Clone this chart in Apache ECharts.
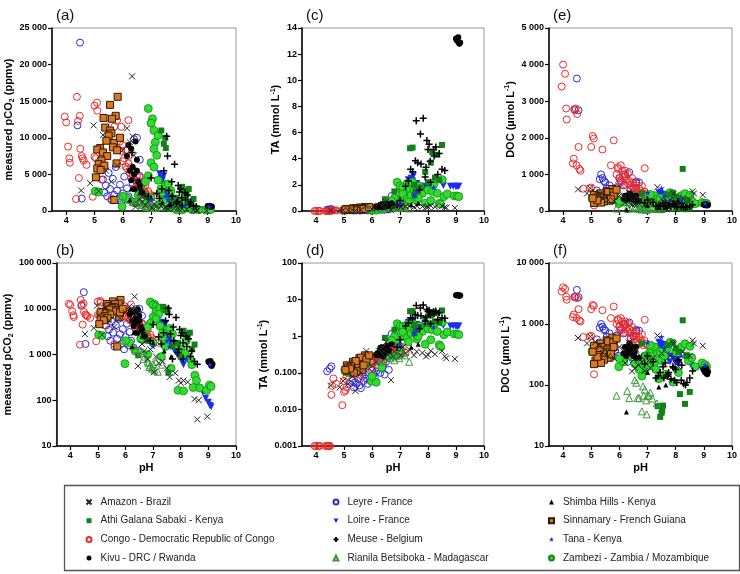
<!DOCTYPE html>
<html>
<head>
<meta charset="utf-8">
<script src="https://cdn.jsdelivr.net/npm/echarts@6/dist/echarts.min.js"></script>
<style>
  html, body { margin: 0; padding: 0; background: #fff; }
  #chart { width: 740px; height: 574px; }
</style>
</head>
<body>
<div id="chart"></div>
<script>
// every row: [pH, pCO2 (ppmv), TA (mmol L-1), DOC (umol L-1)]
const amazon = [
  [4.53, 2800, 0.045, 590], [4.85, 3800, 0.04, 480], [4.97, 11700, 0.06, 625], [5.15, 2700, 0.05, 506],
  [5.3, 10400, 0.08, 430], [5.41, 5500, 0.032, 340], [5.6, 4000, 0.1, 300], [5.8, 6200, 0.39, 280],
  [6.0, 8300, 0.15, 420], [6.15, 11300, 0.2, 380], [6.2, 5500, 0.3, 230], [6.33, 18400, 0.45, 500],
  [6.35, 10200, 0.35, 320], [6.4, 7600, 0.5, 450], [6.45, 560, 0.25, 167], [6.5, 4100, 0.7, 260],
  [6.55, 2900, 0.32, 190], [6.6, 1700, 0.4, 380], [6.68, 1200, 0.063, 210], [6.75, 2000, 0.28, 300],
  [6.8, 800, 0.38, 240], [6.9, 1300, 0.45, 170], [7.03, 410, 0.3, 250], [7.1, 900, 0.5, 190],
  [7.2, 650, 0.35, 280], [7.35, 700, 0.42, 650], [7.5, 500, 0.3, 330], [7.6, 320, 0.38, 220],
  [7.8, 390, 0.35, 300], [7.93, 270, 0.28, 470], [8.0, 240, 0.31, 260], [8.1, 270, 0.4, 200],
  [8.25, 250, 0.32, 350], [8.5, 106, 0.39, 300], [8.6, 38, 0.28, 540], [8.65, 100, 0.25, 480],
  [8.96, 44, 0.24, 440], [6.25, 9400, 0.4, 350]
];
const athi = [
  [7.36, 11000, 4.8, 45], [7.5, 10000, 2.0, 35], [7.45, 9200, 4.85, 30], [7.52, 8600, 1.2, 38],
  [8.15, 2800, 4.5, 71], [8.25, 2400, 2.55, 1150], [8.5, 1650, 5.05, 77], [8.33, 3000, 4.3, 49],
  [8.4, 1300, 2.35, 300], [6.46, 960, 0.9, 420], [6.8, 2000, 1.5, 480], [7.9, 1800, 3.0, 500],
  [8.0, 900, 2.2, 400], [7.7, 1500, 1.8, 450], [8.1, 3300, 3.7, 350], [7.55, 400, 1.5, 46]
];
const congo = [
  [3.95, 12900, 0.001, 3400], [4.0, 12100, 0.001, 4000], [4.07, 8800, 0.001, 3750], [4.11, 7200, 0.001, 2800],
  [4.13, 6600, 0.001, 2500], [4.38, 15600, 0.001, 1430], [4.42, 12300, 0.001, 2750], [4.45, 4500, 0.001, 2800],
  [4.35, 1640, 0.001, 1300], [4.5, 8500, 0.001, 2650], [4.55, 7500, 0.025, 1750], [4.58, 7200, 0.044, 1150],
  [4.62, 6900, 0.07, 1100], [4.48, 13000, 0.001, 1250], [4.72, 6300, 0.05, 610], [4.94, 1950, 0.013, 620],
  [5.0, 14400, 0.06, 1750], [5.05, 7200, 0.033, 2050], [5.09, 14800, 0.08, 1980], [5.1, 13700, 0.04, 150],
  [5.0, 7400, 0.03, 640], [5.4, 12700, 0.09, 1680], [5.8, 12400, 0.15, 1930], [5.7, 11500, 0.18, 1250],
  [5.95, 11500, 0.2, 1200], [6.2, 12400, 0.3, 1100], [5.25, 4300, 0.12, 300], [5.6, 1700, 0.07, 420],
  [5.9, 9500, 0.17, 1000], [5.95, 8200, 0.2, 1150], [6.0, 9000, 0.22, 900], [6.05, 7200, 0.19, 1250],
  [6.1, 6100, 0.25, 1100], [6.1, 8300, 0.28, 800], [6.15, 5800, 0.3, 1000], [6.2, 6500, 0.22, 950],
  [6.25, 5200, 0.27, 880], [6.3, 6000, 0.33, 760], [6.3, 4500, 0.24, 1020], [6.35, 5000, 0.35, 820],
  [6.4, 5500, 0.3, 700], [6.45, 4200, 0.38, 900], [6.5, 4800, 0.4, 650], [6.5, 3700, 0.28, 780],
  [6.55, 4100, 0.42, 560], [6.6, 3600, 0.36, 700], [6.6, 4600, 0.45, 600], [6.65, 3200, 0.48, 520],
  [6.7, 3800, 0.33, 620], [6.7, 2800, 0.4, 470], [6.75, 3000, 0.5, 560], [6.8, 2500, 0.44, 500],
  [6.8, 3400, 0.37, 680], [6.85, 2200, 0.52, 450], [6.9, 2000, 0.46, 530], [6.9, 2700, 0.55, 1170],
  [6.95, 2300, 0.6, 480], [7.0, 1900, 0.42, 440], [7.1, 2100, 0.5, 410], [7.2, 1800, 0.35, 380],
  [6.0, 6800, 0.14, 780], [6.2, 7500, 0.16, 720], [6.4, 3100, 0.2, 600]
];
const kivu = [
  [9.0, 700, 13.2, 180], [9.05, 650, 13.0, 160], [9.1, 600, 12.9, 155], [9.08, 720, 13.3, 190],
  [9.12, 560, 12.8, 150], [9.02, 680, 13.1, 170], [9.15, 620, 12.9, 165],
  [6.2, 9000, 0.35, 420], [6.3, 8500, 0.42, 360], [6.35, 6000, 0.3, 480], [6.4, 5000, 0.5, 330],
  [6.45, 9500, 0.38, 380], [6.5, 7000, 0.45, 300], [6.55, 4000, 0.55, 350], [6.6, 3500, 0.4, 420],
  [6.25, 5500, 0.32, 300], [6.4, 3000, 0.28, 450], [6.7, 2500, 0.6, 280], [6.3, 4200, 0.48, 400],
  [6.15, 7500, 0.3, 330], [6.5, 5500, 0.36, 390]
];
const leyre = [
  [4.4, 11700, 0.11, 2780], [4.49, 23000, 0.13, 3620], [4.55, 1700, 0.15, 2750],
  [5.2, 5800, 0.05, 560], [5.3, 4300, 0.06, 870], [5.35, 2500, 0.04, 1000], [5.4, 3500, 0.055, 900],
  [5.45, 2000, 0.05, 820], [5.5, 5200, 0.07, 780], [5.55, 3000, 0.045, 620], [5.6, 1500, 0.038, 480],
  [5.65, 4400, 0.08, 700], [5.7, 2200, 0.06, 560], [5.75, 6000, 0.09, 540], [5.8, 2800, 0.07, 400],
  [5.85, 1700, 0.05, 360], [5.9, 3600, 0.1, 650], [5.95, 1300, 0.06, 300], [6.0, 2400, 0.12, 900],
  [6.05, 4700, 0.09, 820], [6.1, 1600, 0.08, 260], [6.15, 3100, 0.11, 700], [6.2, 2000, 0.14, 1000],
  [6.3, 1400, 0.1, 240], [6.35, 3800, 0.13, 1060], [6.4, 9800, 0.16, 580], [6.5, 10000, 0.2, 620],
  [6.6, 7000, 0.35, 800], [6.7, 2600, 1.15, 780], [6.45, 1200, 0.09, 280], [6.6, 4800, 0.12, 760]
];
const loire = [
  [7.3, 5100, 2.4, 350], [7.35, 4500, 2.2, 420], [7.4, 4200, 2.5, 500], [7.43, 3700, 2.0, 300],
  [7.48, 3200, 2.7, 450], [7.5, 2900, 1.8, 380], [7.55, 2400, 1.6, 250], [7.6, 2100, 2.1, 420],
  [7.67, 1600, 1.7, 330], [7.7, 1800, 1.9, 280], [7.75, 1300, 1.5, 360], [7.8, 1150, 1.8, 240],
  [7.87, 1000, 1.9, 300], [7.93, 900, 1.6, 270], [8.0, 800, 1.7, 230], [8.05, 700, 1.75, 260],
  [8.1, 600, 1.5, 220], [8.55, 300, 1.95, 210], [8.8, 150, 1.9, 200], [8.9, 110, 1.9, 190],
  [9.0, 90, 1.85, 200], [9.05, 78, 1.9, 210], [9.1, 72, 1.9, 190], [7.6, 2600, 1.4, 460],
  [7.45, 4800, 2.3, 480]
];
const meuse = [
  [7.58, 7500, 6.9, 130], [7.83, 6400, 7.1, 125], [7.73, 4000, 5.9, 150], [7.96, 3500, 5.4, 120],
  [8.04, 3000, 5.1, 110], [8.0, 2600, 4.7, 180], [8.2, 2500, 4.7, 120], [8.28, 2200, 4.9, 105],
  [7.55, 10200, 3.85, 200], [7.63, 2800, 3.7, 230], [7.75, 2000, 3.6, 160], [7.38, 3000, 3.2, 140],
  [8.08, 1800, 3.8, 250], [8.22, 1500, 4.2, 210], [7.93, 1300, 3.35, 190], [8.6, 610, 3.1, 170],
  [8.35, 900, 2.8, 100], [7.3, 1700, 2.3, 130], [7.9, 1100, 2.6, 200], [8.1, 800, 2.2, 260],
  [8.4, 1200, 4.4, 110], [7.2, 2400, 1.9, 240], [7.0, 4500, 0.8, 300], [6.9, 2000, 0.5, 220],
  [6.6, 3000, 0.45, 280], [6.33, 8000, 0.48, 350], [7.45, 5500, 3.0, 160], [8.5, 700, 3.2, 130],
  [7.7, 800, 1.6, 140]
];
const rianila = [
  [6.86, 530, 0.3, 67], [6.97, 490, 0.25, 33], [7.0, 620, 0.35, 67], [6.8, 700, 0.22, 37],
  [6.7, 900, 0.28, 61], [6.6, 1100, 0.3, 109], [5.9, 2000, 0.18, 67], [6.28, 1500, 0.2, 80],
  [6.35, 1300, 0.22, 61], [6.65, 800, 0.25, 61], [6.9, 580, 0.32, 84], [7.05, 450, 0.4, 67],
  [7.17, 420, 0.3, 60], [7.33, 600, 0.2, 50], [6.84, 650, 0.28, 95], [6.55, 1200, 0.26, 120],
  [7.1, 700, 0.35, 75], [6.95, 520, 0.3, 56]
];
const shimba = [
  [6.25, 1500, 0.35, 36], [7.4, 1200, 0.5, 93], [7.65, 900, 0.6, 100],
  [6.6, 2500, 0.4, 280], [7.0, 1800, 0.55, 160], [6.3, 3000, 0.3, 350]
];
const sinnamary = [
  [5.82, 15600, 0.28, 560], [5.55, 14500, 0.25, 540], [5.32, 12700, 0.2, 480], [5.75, 13000, 0.3, 600],
  [5.62, 12600, 0.22, 460], [5.38, 11400, 0.18, 420], [5.55, 11000, 0.15, 380], [5.6, 10600, 0.26, 520],
  [5.5, 10300, 0.14, 350], [5.42, 9600, 0.21, 330], [5.7, 9300, 0.17, 300], [5.65, 8700, 0.12, 280],
  [5.2, 8600, 0.13, 400], [5.1, 8400, 0.16, 440], [5.3, 8000, 0.12, 370], [5.45, 7500, 0.11, 260],
  [5.25, 6900, 0.15, 310], [5.15, 6400, 0.14, 250], [5.35, 6200, 0.1, 230], [5.1, 5800, 0.11, 220],
  [5.22, 5600, 0.13, 290], [5.78, 6500, 0.19, 500], [5.8, 8300, 0.23, 420], [5.05, 4600, 0.12, 350],
  [5.7, 1500, 0.16, 320], [5.9, 10000, 0.3, 580]
];
const tana = [
  [7.5, 2000, 1.2, 620], [7.6, 1500, 1.5, 400], [9.05, 600, 1.9, 210], [8.2, 800, 1.8, 300], [7.0, 1500, 0.6, 500]
];
const zambezi = [
  [6.9, 14000, 2.2, 300], [7.05, 12600, 1.6, 320], [7.0, 12000, 1.9, 280], [7.1, 11000, 1.5, 350],
  [7.15, 9400, 1.2, 380], [7.1, 8500, 1.8, 260], [7.25, 10300, 2.1, 420], [7.2, 7600, 1.4, 300],
  [7.0, 6600, 1.0, 240], [7.1, 6000, 1.3, 450], [7.25, 4200, 0.9, 230], [6.9, 4800, 0.8, 180],
  [6.8, 4000, 0.97, 220], [7.35, 3000, 1.7, 330], [5.03, 2700, 0.12, 357], [5.15, 2600, 0.1, 400],
  [5.98, 630, 0.06, 200], [6.15, 1800, 0.055, 240], [6.35, 1200, 0.14, 300], [6.55, 2200, 0.29, 222],
  [6.7, 2500, 0.77, 180], [6.8, 1000, 0.3, 140], [7.0, 1800, 0.5, 200], [7.4, 2000, 1.2, 127],
  [7.5, 3500, 1.6, 250], [7.6, 3700, 0.84, 300], [7.7, 2800, 1.9, 400], [7.8, 1600, 1.35, 500],
  [7.9, 165, 0.6, 112], [8.0, 1300, 1.6, 350], [8.15, 1050, 1.5, 380], [8.2, 2000, 2.0, 420],
  [8.33, 800, 1.35, 474], [8.4, 600, 0.58, 300], [8.45, 190, 0.52, 250], [8.51, 350, 2.4, 430],
  [8.57, 270, 1.1, 280], [8.69, 185, 1.3, 200], [8.94, 165, 1.15, 230], [9.04, 215, 1.15, 215],
  [9.1, 200, 1.1, 200], [7.3, 900, 0.7, 180], [7.65, 500, 1.0, 150], [8.1, 160, 0.8, 160],
  [6.0, 2000, 0.08, 270], [7.45, 1500, 2.2, 350]
];

const xTicks = [4, 5, 6, 7, 8, 9, 10];

const CROSS = 'path://M0,0L10,10M10,0L0,10';
const PLUS = 'path://M5,0L5,10M0,5L10,5';
const STAR = 'path://M5,0L6.2,3.6L10,3.6L7,5.9L8.1,9.5L5,7.3L1.9,9.5L3,5.9L0,3.6L3.8,3.6Z';
const DOWN = 'path://M0,0L10,0L5,9Z';

// drawing order (bottom first)
const sites = [
  { name: 'Leyre - France', rows: leyre, symbol: 'circle', size: 7, fill: 'none', stroke: '#2a2ad8', bw: 1 },
  { name: 'Loire - France', rows: loire, symbol: DOWN, size: 7, fill: '#1a2ef0', stroke: '#1a2ef0', bw: 0 },
  { name: 'Congo - Democratic Republic of Congo', rows: congo, symbol: 'circle', size: 7, fill: 'none', stroke: '#ee2a2a', bw: 1 },
  { name: 'Zambezi - Zambia / Mozambique', rows: zambezi, symbol: 'circle', size: 8, fill: '#2fdc2f', stroke: '#148a14', bw: 0.8 },
  { name: 'Sinnamary - French Guiana', rows: sinnamary, symbol: 'rect', size: 7, fill: '#e07820', stroke: '#2a1a08', bw: 1 },
  { name: 'Athi Galana Sabaki - Kenya', rows: athi, symbol: 'rect', size: 6, fill: '#138018', stroke: '#138018', bw: 0 },
  { name: 'Rianila Betsiboka - Madagascar', rows: rianila, symbol: 'triangle', size: 7, fill: 'none', stroke: '#3a9a3a', bw: 1 },
  { name: 'Kivu - DRC / Rwanda', rows: kivu, symbol: 'circle', size: 6, fill: '#000', stroke: '#000', bw: 0 },
  { name: 'Meuse - Belgium', rows: meuse, symbol: PLUS, size: 7, fill: 'none', stroke: '#000', bw: 1.5 },
  { name: 'Amazon - Brazil', rows: amazon, symbol: CROSS, size: 6, fill: 'none', stroke: '#222', bw: 1 },
  { name: 'Shimba Hills - Kenya', rows: shimba, symbol: 'triangle', size: 5, fill: '#000', stroke: '#000', bw: 0 },
  { name: 'Tana - Kenya', rows: tana, symbol: STAR, size: 6, fill: '#1a2ef0', stroke: '#1a2ef0', bw: 0 }
];

const legendCols = [
  ['Amazon - Brazil', 'Athi Galana Sabaki - Kenya', 'Congo - Democratic Republic of Congo', 'Kivu - DRC / Rwanda'],
  ['Leyre - France', 'Loire - France', 'Meuse - Belgium', 'Rianila Betsiboka - Madagascar'],
  ['Shimba Hills - Kenya', 'Sinnamary - French Guiana', 'Tana - Kenya', 'Zambezi - Zambia / Mozambique']
];

function fmt(v) {
  if (v === 0) return '0';
  if (v < 1) return v.toFixed(3);
  return String(Math.round(v)).replace(/\B(?=(\d{3})+(?!\d))/g, ' ');
}

const PCO2 = 'measured pCO{sub|2} (ppmv)';
const TA = 'TA (mmol L{sup|-1})';
const DOC = 'DOC (\u00b5mol L{sup|-1})';

// grid index -> panel setup; col = column of the rows
const panels = [
  { tag: '(a)', col: 1, pos: [52, 28, 184], y: { type: 'value', min: 0, max: 25000, interval: 5000 }, name: PCO2, gap: 32 },
  { tag: '(c)', col: 2, pos: [302, 28, 182], y: { type: 'value', min: 0, max: 14, interval: 2 }, name: TA, gap: 14 },
  { tag: '(e)', col: 3, pos: [549, 28, 185], y: { type: 'value', min: 0, max: 5000, interval: 1000 }, name: DOC, gap: 28 },
  { tag: '(b)', col: 1, pos: [52, 263, 184], y: { type: 'log', min: 10, max: 100000 }, name: PCO2, gap: 32, ph: true },
  { tag: '(d)', col: 2, pos: [302, 263, 182], y: { type: 'log', min: 0.001, max: 100 }, name: TA, gap: 26, ph: true },
  { tag: '(f)', col: 3, pos: [549, 263, 185], y: { type: 'log', min: 10, max: 10000 }, name: DOC, gap: 25, ph: true }
];

const font = 'Arial, "Liberation Sans", sans-serif';
const axisLine = { show: true, lineStyle: { color: '#000', width: 1.5 } };
const axisTick = { show: true, length: 4, lineStyle: { color: '#000', width: 1.2 } };
const labelStyle = { color: '#000', fontWeight: 'bold', fontSize: 9, fontFamily: font, margin: 5 };
const nameStyle = {
  color: '#000', fontWeight: 'bold', fontSize: 11, fontFamily: font, lineHeight: 14,
  rich: {
    sub: { fontSize: 7, fontWeight: 'bold', fontFamily: font, verticalAlign: 'bottom', lineHeight: 14, color: '#000' },
    sup: { fontSize: 7, fontWeight: 'bold', fontFamily: font, verticalAlign: 'top', lineHeight: 14, color: '#000' }
  }
};

const grid = [], xAxis = [], yAxis = [], title = [], series = [];
panels.forEach(function (p, i) {
  grid.push({ left: p.pos[0], top: p.pos[1], width: p.pos[2], height: 183, show: true, borderColor: '#999', borderWidth: 1 });
  title.push({ text: p.tag, left: p.pos[0] - 1, top: p.pos[1] - 25, textStyle: { fontSize: 15, fontWeight: 'normal', color: '#111', fontFamily: font } });
  xAxis.push({
    type: 'value', gridIndex: i, min: 3.5, max: 10,
    name: p.ph ? 'pH' : '', nameLocation: 'middle', nameGap: 15, nameTextStyle: nameStyle,
    axisLine: axisLine, axisTick: Object.assign({ customValues: xTicks }, axisTick),
    axisLabel: Object.assign({ customValues: xTicks }, labelStyle),
    splitLine: { show: false }
  });
  yAxis.push(Object.assign({
    gridIndex: i, name: p.name, nameLocation: 'middle', nameGap: p.gap, nameTextStyle: nameStyle,
    axisLine: axisLine, axisTick: axisTick,
    axisLabel: Object.assign({ formatter: fmt }, labelStyle),
    splitLine: { show: false }
  }, p.y));
  sites.forEach(function (s) {
    series.push({
      name: s.name, type: 'scatter', xAxisIndex: i, yAxisIndex: i,
      symbol: s.symbol, symbolSize: s.size,
      itemStyle: { color: s.fill, borderColor: s.stroke, borderWidth: s.bw, opacity: 1 },
      data: s.rows.filter(function (r) { return r[p.col] != null; }).map(function (r) { return [r[0], r[p.col]]; }),
      silent: true
    });
  });
});

const legend = legendCols.map(function (names, k) {
  return {
    data: names, orient: 'vertical', left: [84, 331, 548][k], top: 496, padding: 0,
    itemWidth: 5, itemHeight: 5, itemGap: 6.7, selectedMode: false,
    textStyle: { fontSize: 10, color: '#222', fontFamily: font, lineHeight: 12, padding: [0, 0, 0, 4] }
  };
});

const chart = echarts.init(document.getElementById('chart'), null, { renderer: 'canvas' });
chart.setOption({
  animation: false,
  backgroundColor: '#fff',
  title: title,
  grid: grid,
  xAxis: xAxis,
  yAxis: yAxis,
  legend: legend,
  graphic: [{
    type: 'rect', left: 62, top: 483, z: -1,
    shape: { width: 675, height: 85 },
    style: { fill: 'none', stroke: '#555', lineWidth: 1.3 }
  }],
  series: series
});
</script>
</body>
</html>
